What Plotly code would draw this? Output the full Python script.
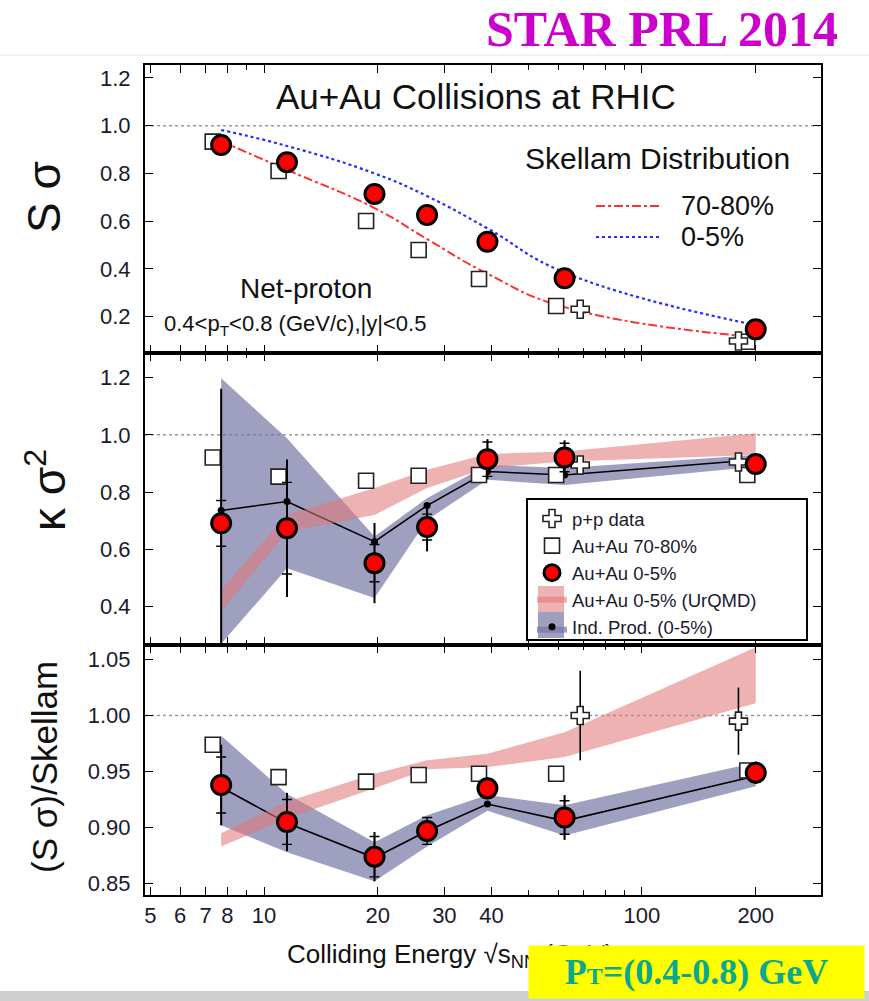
import plotly.graph_objects as go

# ---------------- data ----------------
energy = [7.7, 11.5, 19.6, 27, 39, 62.4, 200]
energy_pp = [62.4, 200]

# S*sigma
ss_central = [0.919, 0.847, 0.714, 0.626, 0.514, 0.361, 0.147]
ss_periph = [0.933, 0.810, 0.601, 0.479, 0.358, 0.245, 0.095]
ss_pp = [0.231, 0.098]
skellam_central = [0.982, 0.915, 0.800, 0.705, 0.570, 0.385, 0.165]
skellam_periph = [0.935, 0.815, 0.655, 0.525, 0.380, 0.240, 0.114]

# kappa*sigma^2
kv_central = [0.691, 0.674, 0.552, 0.678, 0.915, 0.921, 0.898]
kv_central_stat = [0.47, 0.24, 0.14, 0.085, 0.07, 0.06, 0.03]
kv_central_sys = [0.08, 0.16, 0.065, 0.045, 0.06, 0.05, 0.02]
kv_periph = [0.921, 0.854, 0.840, 0.857, 0.860, 0.860, 0.860]
kv_pp = [0.895, 0.905]
kv_urqmd_lo = [0.383, 0.662, 0.720, 0.814, 0.884, 0.907, 0.930]
kv_urqmd_hi = [0.458, 0.720, 0.814, 0.878, 0.933, 0.942, 1.006]
kv_indp = [0.736, 0.767, 0.627, 0.753, 0.872, 0.860, 0.913]
kv_indp_lo = [0.270, 0.534, 0.430, 0.703, 0.843, 0.825, 0.889]
kv_indp_hi = [1.198, 0.988, 0.645, 0.779, 0.895, 0.884, 0.930]

# (S*sigma)/Skellam
sr_central = [0.938, 0.905, 0.874, 0.897, 0.935, 0.909, 0.949]
sr_central_stat = [0.036, 0.026, 0.022, 0.010, 0.010, 0.020, 0.010]
sr_central_sys = [0.025, 0.020, 0.018, 0.012, 0.008, 0.015, 0.008]
sr_periph = [0.974, 0.945, 0.941, 0.947, 0.948, 0.948, 0.951]
sr_pp = [1.000, 0.995]
sr_pp_stat = [0.040, 0.030]
sr_urqmd_lo = [0.883, 0.908, 0.935, 0.952, 0.954, 0.963, 1.011]
sr_urqmd_hi = [0.895, 0.923, 0.948, 0.960, 0.966, 0.985, 1.061]
sr_indp = [0.936, 0.904, 0.873, 0.897, 0.921, 0.906, 0.946]
sr_indp_lo = [0.902, 0.878, 0.852, 0.883, 0.915, 0.893, 0.937]
sr_indp_hi = [0.982, 0.930, 0.887, 0.911, 0.929, 0.920, 0.958]

x_tick_vals = [5, 6, 7, 8, 10, 20, 30, 40, 100, 200]
x_tick_text = ["5", "6", "7", "8", "10", "20", "30", "40", "100", "200"]
x_minor_vals = [9, 50, 60, 70, 80, 90]

# ---------------- styling ----------------
FONT = "Liberation Sans, Arial, sans-serif"
RED = "#ff0000"
PINK = "rgba(224,118,118,0.56)"
PURPLE = "rgba(118,118,165,0.70)"
W, H = 869, 1001
L, R, T, B = 145, 821, 65, 895


def px(xp):
    return (xp - L) / (R - L)


def py(yp):
    return (B - yp) / (B - T)


periph_x = [e * 0.95 for e in energy]
pp_x = [energy_pp[0] * 1.1, energy_pp[1] * 0.9]

fig = go.Figure()


def band_polygon(lo, hi, xa, ya, color, name=None, legend=False, rank=None):
    fig.add_trace(go.Scatter(
        x=energy + energy[::-1], y=hi + lo[::-1], xaxis=xa, yaxis=ya,
        mode="none", fill="toself", fillcolor=color,
        name=name, showlegend=legend, legendrank=rank, hoverinfo="skip"))


def indp_band(lo, mid, hi, xa, ya, legend):
    # lower edge, centre (carries the legend entry), upper edge
    fig.add_trace(go.Scatter(x=energy, y=lo, xaxis=xa, yaxis=ya, mode="lines",
                             line=dict(width=0, color=PURPLE), showlegend=False,
                             hoverinfo="skip"))
    fig.add_trace(go.Scatter(x=energy, y=mid, xaxis=xa, yaxis=ya, mode="markers",
                             fill="tonexty", fillcolor=PURPLE,
                             marker=dict(size=7, color="black"),
                             name="Ind. Prod. (0-5%)", showlegend=legend,
                             legendrank=5))
    fig.add_trace(go.Scatter(x=energy, y=hi, xaxis=xa, yaxis=ya, mode="lines",
                             fill="tonexty", fillcolor=PURPLE,
                             line=dict(width=0, color=PURPLE), showlegend=False,
                             hoverinfo="skip"))
    fig.add_trace(go.Scatter(x=energy, y=mid, xaxis=xa, yaxis=ya, mode="lines+markers",
                             line=dict(color="black", width=1.6),
                             marker=dict(size=6, color="black"), showlegend=False))


def sys_bars(vals, errs, xa, ya):
    fig.add_trace(go.Scatter(
        x=energy, y=vals, xaxis=xa, yaxis=ya, mode="markers",
        marker=dict(size=1, color="rgba(0,0,0,0)"), showlegend=False,
        error_y=dict(type="data", array=errs, color="black", thickness=1.4, width=5)))


def periph_pts(vals, xa, ya, legend):
    fig.add_trace(go.Scatter(
        x=periph_x, y=vals, xaxis=xa, yaxis=ya, mode="markers",
        marker=dict(symbol="square", size=15, color="white",
                    line=dict(color="#222", width=1.6)),
        name="Au+Au 70-80%", showlegend=legend, legendrank=2))


def pp_pts(vals, xa, ya, legend, errs=None):
    fig.add_trace(go.Scatter(
        x=pp_x, y=vals, xaxis=xa, yaxis=ya, mode="markers",
        marker=dict(symbol="cross", size=15, color="white",
                    line=dict(color="#222", width=1.6)),
        error_y=(dict(type="data", array=errs, color="black", thickness=1.6, width=0)
                 if errs else None),
        name="p+p data", showlegend=legend, legendrank=1))


def central_pts(vals, xa, ya, legend, errs=None):
    fig.add_trace(go.Scatter(
        x=energy, y=vals, xaxis=xa, yaxis=ya, mode="markers",
        marker=dict(symbol="circle", size=19, color=RED,
                    line=dict(color="black", width=3)),
        error_y=(dict(type="data", array=errs, color="black", thickness=2, width=0)
                 if errs else None),
        name="Au+Au 0-5%", showlegend=legend, legendrank=3))


# ---- top panel: S sigma ----
fig.add_trace(go.Scatter(x=energy, y=skellam_periph, xaxis="x", yaxis="y",
                         mode="lines", line=dict(color="#ff3030", width=2, dash="dashdot",
                                                 shape="spline", smoothing=1.3),
                         showlegend=False))
fig.add_trace(go.Scatter(x=energy, y=skellam_central, xaxis="x", yaxis="y",
                         mode="lines", line=dict(color="#2a2aff", width=2.2, dash="dot",
                                                 shape="spline", smoothing=1.3),
                         showlegend=False))
periph_pts(ss_periph, "x", "y", False)
pp_pts(ss_pp, "x", "y", False)
central_pts(ss_central, "x", "y", False)

# ---- middle panel: kappa sigma^2 ----
indp_band(kv_indp_lo, kv_indp, kv_indp_hi, "x2", "y2", True)
band_polygon(kv_urqmd_lo, kv_urqmd_hi, "x2", "y2", PINK, "Au+Au 0-5% (UrQMD)", True, 4)
periph_pts(kv_periph, "x2", "y2", True)
pp_pts(kv_pp, "x2", "y2", True)
sys_bars(kv_central, kv_central_sys, "x2", "y2")
central_pts(kv_central, "x2", "y2", True, kv_central_stat)

# ---- bottom panel: (S sigma)/Skellam ----
indp_band(sr_indp_lo, sr_indp, sr_indp_hi, "x3", "y3", False)
band_polygon(sr_urqmd_lo, sr_urqmd_hi, "x3", "y3", PINK)
periph_pts(sr_periph, "x3", "y3", False)
pp_pts(sr_pp, "x3", "y3", False, sr_pp_stat)
sys_bars(sr_central, sr_central_sys, "x3", "y3")
central_pts(sr_central, "x3", "y3", False, sr_central_stat)

# ---------------- axes ----------------
x_common = dict(type="log", range=[0.685, 2.4737], showline=True, linewidth=2,
                linecolor="black", mirror="allticks", ticks="inside", ticklen=8,
                tickwidth=1.3, tickcolor="black", tickvals=x_tick_vals,
                ticktext=x_tick_text, showgrid=False, zeroline=False,
                minor=dict(tickvals=x_minor_vals, ticks="inside", ticklen=5,
                           tickcolor="black", tickwidth=1.2),
                tickfont=dict(family=FONT, size=22, color="#1a1a2e"))
y_common = dict(showline=True, linewidth=2, linecolor="black", mirror="allticks",
                ticks="inside", ticklen=8, tickwidth=1.3, tickcolor="black",
                showgrid=False, zeroline=False, ticklabelstandoff=8,
                tickfont=dict(family=FONT, size=22, color="#1a1a2e"))

d_top = [py(353), 1.0]
d_mid = [py(645), py(353)]
d_bot = [0.0, py(645)]

fig.update_layout(
    xaxis=dict(x_common, domain=[0, 1], anchor="y", showticklabels=False),
    yaxis=dict(y_common, domain=d_top, anchor="x", range=[0.048, 1.254],
               tickvals=[0.2, 0.4, 0.6, 0.8, 1.0, 1.2], tickformat=".1f"),
    xaxis2=dict(x_common, domain=[0, 1], anchor="y2", showticklabels=False, matches="x"),
    yaxis2=dict(y_common, domain=d_mid, anchor="x2", range=[0.266, 1.286],
                tickvals=[0.4, 0.6, 0.8, 1.0, 1.2], tickformat=".1f"),
    xaxis3=dict(x_common, domain=[0, 1], anchor="y3", matches="x"),
    yaxis3=dict(y_common, domain=d_bot, anchor="x3", range=[0.8398, 1.063],
                tickvals=[0.85, 0.90, 0.95, 1.00, 1.05], tickformat=".2f"),
)

# ---------------- shapes ----------------
shapes = []
# unity reference lines
for xa, ya in [("x domain", "y"), ("x2 domain", "y2"), ("x3 domain", "y3")]:
    shapes.append(dict(type="line", xref=xa, yref=ya, x0=0, x1=1, y0=1.0, y1=1.0,
                       layer="below", line=dict(color="#9a9a9a", width=1.5, dash="dot")))
# Skellam key lines
shapes.append(dict(type="line", xref="paper", yref="paper", x0=px(596), x1=px(660),
                   y0=py(206), y1=py(206), line=dict(color="#ff3030", width=2, dash="dashdot")))
shapes.append(dict(type="line", xref="paper", yref="paper", x0=px(596), x1=px(660),
                   y0=py(237), y1=py(237), line=dict(color="#2a2aff", width=2.2, dash="dot")))
# legend frame and band patches
shapes.append(dict(type="rect", xref="paper", yref="paper", x0=px(527), x1=px(807),
                   y0=py(640), y1=py(499), layer="above", fillcolor="white",
                   line=dict(color="black", width=2)))
shapes.append(dict(type="rect", xref="paper", yref="paper", x0=px(538), x1=px(564),
                   y0=py(612), y1=py(586), layer="above", fillcolor=PINK, line=dict(width=0)))
shapes.append(dict(type="rect", xref="paper", yref="paper", x0=px(538), x1=px(564),
                   y0=py(638), y1=py(612), layer="above", fillcolor=PURPLE, line=dict(width=0)))
# page edges
shapes.append(dict(type="line", xref="paper", yref="paper", x0=px(0), x1=px(W),
                   y0=py(55), y1=py(55), line=dict(color="#ececec", width=1.5)))
shapes.append(dict(type="rect", xref="paper", yref="paper", x0=px(0), x1=px(W),
                   y0=py(1001), y1=py(991), fillcolor="#cfcfcf", line=dict(width=0)))
fig.update_layout(shapes=shapes)

# ---------------- annotations ----------------
ann = []


def text(s, xp, yp, size, xanchor="center", color="#111", angle=0, family=FONT, **kw):
    ann.append(dict(text=s, x=px(xp), y=py(yp), xref="paper", yref="paper",
                    xanchor=xanchor, yanchor="middle", showarrow=False, textangle=angle,
                    font=dict(family=family, size=size, color=color), **kw))


text("Au+Au Collisions at RHIC", 476, 97, 35)
text("Skellam Distribution", 657, 158, 30)
text("70-80%", 679, 206, 27, xanchor="left")
text("0-5%", 679, 237, 27, xanchor="left")
text("Net-proton", 306, 288, 28)
text("0.4&lt;p<sub>T</sub>&lt;0.8 (GeV/c),|y|&lt;0.5", 162, 325, 22, xanchor="left")
text("S σ", 44, 197, 46, angle=-90)
text("κ σ<sup>2</sup>", 46, 490, 46, angle=-90)
text("(S σ)/Skellam", 44, 767, 35, angle=-90)
text("Colliding Energy √s<sub>NN</sub> (GeV)", 285, 955, 26, xanchor="left")
text("<b>STAR PRL 2014</b>", 840, 29, 50, xanchor="right", color="#cc00cc",
     family="Liberation Serif, Times New Roman, serif")
ann.append(dict(text="<b>P<span style='font-size:24px'>T</span>=(0.4-0.8) GeV</b>",
                x=px(528), y=py(945), xref="paper", yref="paper", xanchor="left",
                yanchor="top", showarrow=False, bgcolor="#ffff00", width=335, height=52,
                align="center", valign="middle", borderpad=0,
                font=dict(family="Liberation Serif, Times New Roman, serif", size=36,
                          color="#0aa88e")))
fig.update_layout(annotations=ann)

fig.update_layout(
    width=W, height=H, margin=dict(l=L, r=W - R, t=T, b=H - B),
    paper_bgcolor="white", plot_bgcolor="white",
    showlegend=True,
    legend=dict(x=px(532), y=py(500), xanchor="left", yanchor="top",
                bgcolor="rgba(0,0,0,0)", borderwidth=0, traceorder="normal",
                font=dict(family=FONT, size=18.5, color="#1a1a2e"),
                tracegroupgap=0, itemwidth=30),
)

fig.write_html("out.html")
